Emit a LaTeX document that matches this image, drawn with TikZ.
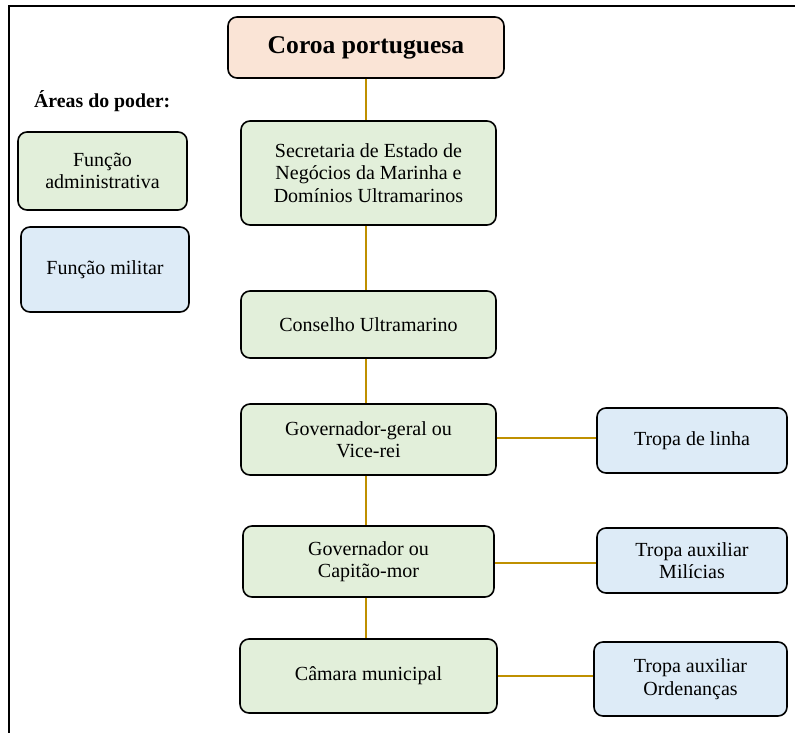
\documentclass[tikz,border=0pt]{standalone}
\usepackage{fontspec}
\setmainfont{Liberation Serif}
\definecolor{peach}{RGB}{250,228,214}
\definecolor{lgreen}{RGB}{226,239,218}
\definecolor{lblue}{RGB}{221,235,247}
\definecolor{gold}{RGB}{191,144,0}
\tikzset{
  box/.style={draw=black, line width=1.6pt, rounded corners=9pt, align=center, inner sep=0pt, font=\fontsize{20}{22.5}\selectfont},
  adm/.style={box, fill=lgreen},
  mil/.style={box, fill=lblue},
  link/.style={draw=gold, line width=2pt}
}
\begin{document}
\begin{tikzpicture}[x=1pt,y=-1pt]
\useasboundingbox (0,0) rectangle (795,733);
\fill[white] (0,0) rectangle (795,733);
% frame
\draw[line width=2pt] (9,733) -- (9,6) -- (795,6);
% nodes
\node[box, fill=peach, minimum width=276pt, minimum height=61pt, font=\fontsize{25.6}{30}\selectfont\bfseries] (coroa) at (366,47.5) {Coroa portuguesa};
\node[adm, minimum width=255pt, minimum height=104pt] (sec) at (368.5,173) {Secretaria de Estado de\\Negócios da Marinha e\\Domínios Ultramarinos};
\node[adm, minimum width=255pt, minimum height=67pt] (cons) at (368.5,324.5) {Conselho Ultramarino};
\node[adm, minimum width=255pt, minimum height=71pt] (gg) at (368.5,439.5) {Governador-geral ou\\Vice-rei};
\node[adm, minimum width=251pt, minimum height=71pt] (gov) at (368.5,561.5) {Governador ou\\Capitão-mor};
\node[adm, minimum width=257pt, minimum height=74pt] (cam) at (368.5,676) {Câmara municipal};
\node[mil, minimum width=190pt, minimum height=65pt] (t1) at (692,440.5) {Tropa de linha};
\node[mil, minimum width=190pt, minimum height=65pt] (t2) at (692,560.5) {Tropa auxiliar\\Milícias};
\node[mil, minimum width=193pt, minimum height=74pt] (t3) at (690.5,679) {Tropa auxiliar\\Ordenanças};
% legend
\node[font=\fontsize{19.8}{24}\selectfont\bfseries, anchor=west, inner sep=0pt] (leg) at (34,101) {Áreas do poder:};
\node[adm, minimum width=169pt, minimum height=78pt] (fa) at (102.5,171) {Função\\administrativa};
\node[mil, minimum width=168pt, minimum height=85pt] (fm) at (105,269.5) {Função militar};
% connectors
\draw[link] (coroa.south -| 366,0) -- (sec.north -| 366,0);
\draw[link] (sec.south -| 366,0) -- (cons.north -| 366,0);
\draw[link] (cons.south -| 366,0) -- (gg.north -| 366,0);
\draw[link] (gg.south -| 366,0) -- (gov.north -| 366,0);
\draw[link] (gov.south -| 366,0) -- (cam.north -| 366,0);
\draw[link] (gg.east |- 0,438) -- (t1.west |- 0,438);
\draw[link] (gov.east |- 0,563) -- (t2.west |- 0,563);
\draw[link] (cam.east |- 0,676) -- (t3.west |- 0,676);
\end{tikzpicture}
\end{document}
